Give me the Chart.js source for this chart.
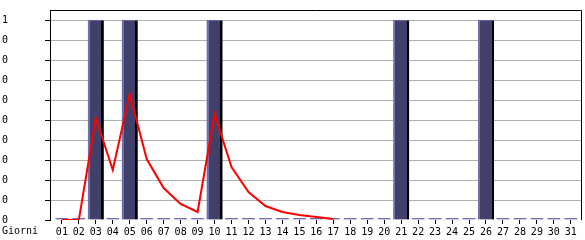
<!DOCTYPE html>
<html>
<head>
<meta charset="utf-8">
<script src="https://cdn.jsdelivr.net/npm/chart.js@4/dist/chart.umd.min.js"></script>
<style>
body { margin: 0; background: #fff; }
</style>
</head>
<body>
<canvas id="giorni" width="585" height="240"></canvas>
<script>
var giorni = ['01','02','03','04','05','06','07','08','09','10','11','12','13','14','15','16',
  '17','18','19','20','21','22','23','24','25','26','27','28','29','30','31'];
var presenze = [0,0,1,0,1,0,0,0,0,1,0,0,0,0,0,0,0,0,0,0,1,0,0,0,0,1,0,0,0,0,0];
var andamento = [0,0,0.51,0.25,0.63,0.305,0.16,0.08,0.04,0.53,0.265,0.14,0.07,0.04,0.025,0.015,0.005,
  null,null,null,null,null,null,null,null,null,null,null,null,null,null];
var yLabels = ['0','0','0','0','0','0','0','0','0','0','1'];

var chiaro = '#7070b0';
var scuro = '#40406a';
var font = { family: 'DejaVu Sans Mono', size: 10 };

function pieno(c) {
  return c.raw && c.raw.y ? true : false;
}

// barra "3d": bordo chiaro a sinistra, ombra nera a destra
function coloreBarra(c) {
  if (!pieno(c)) return chiaro;
  var chart = c.chart;
  var xs = chart.scales.x;
  if (!xs || !chart.chartArea) return scuro;
  var cx = xs.getPixelForValue(c.raw.x);
  var g = chart.ctx.createLinearGradient(cx - 8, 0, cx + 8, 0);
  g.addColorStop(0, chiaro);
  g.addColorStop(0.14, chiaro);
  g.addColorStop(0.14, scuro);
  g.addColorStop(0.85, scuro);
  g.addColorStop(0.85, '#000');
  g.addColorStop(1, '#000');
  return g;
}

var cornice = {
  id: 'cornice',
  afterDraw: function(chart) {
    var a = chart.chartArea;
    var ctx = chart.ctx;
    ctx.save();
    ctx.strokeStyle = '#000';
    ctx.lineWidth = 1;
    ctx.beginPath();
    ctx.moveTo(a.left, a.top + 0.5);
    ctx.lineTo(a.right + 0.5, a.top + 0.5);
    ctx.lineTo(a.right + 0.5, a.bottom);
    ctx.stroke();
    ctx.fillStyle = '#000';
    ctx.font = '10px "DejaVu Sans Mono"';
    ctx.textBaseline = 'top';
    ctx.fillText('Giorni', 2, 226);
    ctx.restore();
  }
};

var barre = [];
var linea = [];
for (var i in giorni) {
  barre.push({ x: +i + 1, y: presenze[i] });
  linea.push({ x: +i + 1, y: andamento[i] });
}

var ctx = document.getElementById('giorni');

var grafico = new Chart(ctx, {
  data: {
    datasets: [
      {
        type: 'line',
        data: linea,
        borderColor: '#ff0000',
        borderWidth: 2,
        pointRadius: 0,
        tension: 0,
        order: 0
      },
      {
        type: 'bar',
        data: barre,
        backgroundColor: coloreBarra,
        borderColor: function(c) { return pieno(c) ? chiaro : 'rgba(0,0,0,0)'; },
        borderWidth: function(c) {
          return pieno(c) ? { top: 1, left: 0, right: 0, bottom: 0 } : { top: 0, left: 2, right: 2, bottom: 0 };
        },
        barThickness: 16,
        minBarLength: 2,
        order: 1
      }
    ]
  },
  options: {
    responsive: false,
    animation: false,
    layout: { padding: { left: 2, top: 10, right: 4, bottom: 0 } },
    plugins: { legend: { display: false }, tooltip: { enabled: false } },
    scales: {
      x: {
        type: 'linear',
        offset: false,
        min: 0.3,
        max: 31.6,
        afterFit: function(s) { s.height = 20; },
        border: { display: false },
        grid: { offset: false, drawOnChartArea: false, tickLength: 4, tickColor: '#000', color: '#000' },
        ticks: {
          stepSize: 1,
          autoSkip: false,
          maxRotation: 0,
          includeBounds: false,
          padding: 2,
          color: '#000',
          font: font,
          callback: function(v) { return giorni[Math.round(v) - 1]; }
        }
      },
      y: {
        min: 0,
        max: 1.05,
        afterFit: function(s) { s.width = 48; },
        border: { display: true, color: '#000', width: 1 },
        grid: {
          color: function(c) { return c.tick && c.tick.value === 0 ? 'rgba(0,0,0,0)' : '#b0b0b0'; },
          tickColor: '#000',
          tickLength: 5
        },
        ticks: {
          stepSize: 0.1,
          includeBounds: false,
          crossAlign: 'far',
          color: '#000',
          font: font,
          callback: function(v, i) { return yLabels[i]; }
        }
      }
    }
  },
  plugins: [cornice]
});
</script>
</body>
</html>
